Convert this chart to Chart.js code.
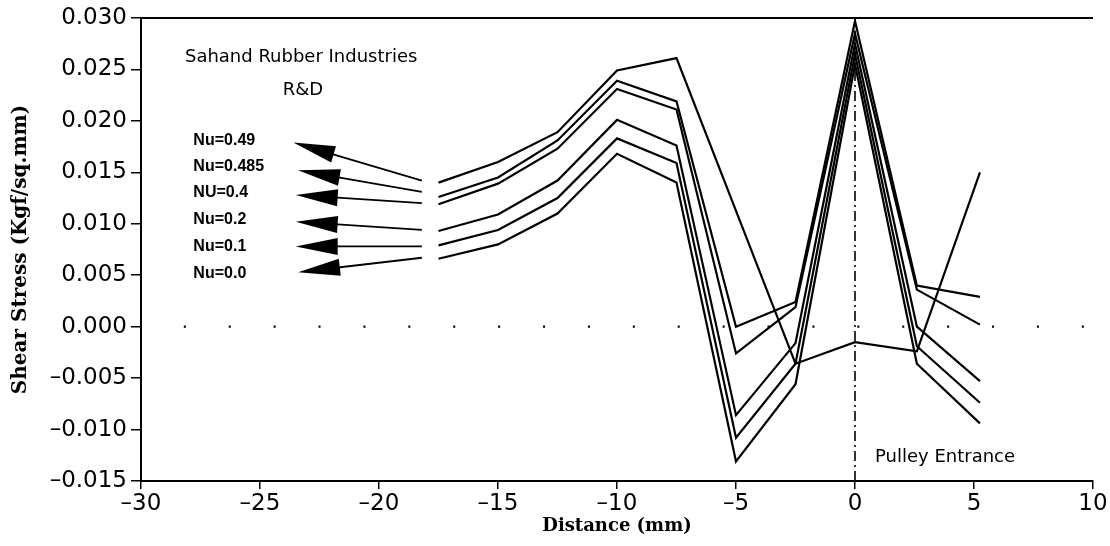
<!DOCTYPE html>
<html><head><meta charset="utf-8">
<script src="https://cdn.jsdelivr.net/npm/chart.js@4/dist/chart.umd.min.js"></script>
<style>html,body{margin:0;padding:0;background:#fff;}</style>
</head><body>
<canvas id="c" width="1110" height="546" style="width:1110px;height:546px;display:block"></canvas>
<script>
// ---- data ----
const distance = [-17.5, -15, -12.5, -10, -7.5, -5, -2.5, 0, 2.6, 5.25];
const nu049  = [0.0140, 0.0160, 0.0189, 0.0249, 0.0261, null,    -0.0036, -0.0015, -0.0024, 0.0150];
const nu0485 = [0.0126, 0.0145, 0.0181, 0.0239, 0.0219, 0.0000,  0.0024,  0.0297,  0.0040,  0.0029];
const nu04   = [0.0119, 0.0139, 0.0173, 0.0231, 0.0211, -0.0026, 0.0019,  0.0285,  0.0036,  0.0002];
const nu02   = [0.0093, 0.0109, 0.0142, 0.0201, 0.0176, -0.0086, -0.0016, 0.0275,  0.0000, -0.0053];
const nu01   = [0.0079, 0.0094, 0.0125, 0.0183, 0.0159, -0.0108, -0.0036, 0.0265, -0.0019, -0.0074];
const nu00   = [0.0066, 0.0080, 0.0110, 0.0168, 0.0140, -0.0131, -0.0056, 0.0255, -0.0036, -0.0094];
const seriesLabels = ["Nu=0.49", "Nu=0.485", "NU=0.4", "Nu=0.2", "Nu=0.1", "Nu=0.0"];
const xTicks = [-30, -25, -20, -15, -10, -5, 0, 5, 10];
const yTicks = [-0.015, -0.010, -0.005, 0.000, 0.005, 0.010, 0.015, 0.020, 0.025, 0.030];
// legend arrows (data coordinates)
const arrowTipX  = [-23.6, -23.4, -23.5, -23.5, -23.5, -23.4];
const arrowTipY  = [0.0179, 0.0152, 0.0128, 0.0102, 0.0078, 0.0053];
const arrowTailX = [-18.2, -18.2, -18.2, -18.2, -18.2, -18.2];
const arrowTailY = [0.0142, 0.0131, 0.0120, 0.0094, 0.0078, 0.0067];
const labelX = -27.8;
const labelY = [0.0181, 0.0156, 0.0130, 0.0104, 0.0078, 0.0052];
const zeroLineX = [-28.2, 10];
const entranceX = 0;

const allSeries = [nu049, nu0485, nu04, nu02, nu01, nu00];
const pts = s => distance.map((x, i) => ({x: x, y: s[i]}));

const datasets = allSeries.map((s, i) => ({
  label: seriesLabels[i], data: pts(s), borderColor: '#000', borderWidth: 2.2,
  pointRadius: 0, tension: 0, spanGaps: true, fill: false, order: 1
}));
datasets.push({
  label: 'zero', data: zeroLineX.map(x => ({x: x, y: 0})), borderColor: '#000',
  borderWidth: 2.2, borderDash: [2, 42.9], pointRadius: 0, order: 2
});
datasets.push({
  label: 'entrance', data: [{x: entranceX, y: -0.015}, {x: entranceX, y: 0.030}], borderColor: '#000',
  borderWidth: 1.6, borderDash: [10, 4, 2, 4], pointRadius: 0, order: 2
});

const fmt = v => { const s = Math.abs(v).toFixed(3); return (v < -1e-9 ? '\u2013' : '') + s; };
const fmtX = v => (v < 0 ? '\u2013' : '') + Math.abs(v);

const annot = {
  id: 'annot',
  afterDatasetsDraw(chart) {
    const ctx = chart.ctx, xs = chart.scales.x, ys = chart.scales.y, ca = chart.chartArea;
    ctx.save();
    // top border
    ctx.strokeStyle = '#000'; ctx.lineWidth = 2;
    ctx.beginPath(); ctx.moveTo(ca.left, ca.top); ctx.lineTo(ca.right, ca.top); ctx.stroke();
    // arrows
    ctx.fillStyle = '#000';
    for (let i = 0; i < arrowTipX.length; i++) {
      const tx = xs.getPixelForValue(arrowTipX[i]), ty = ys.getPixelForValue(arrowTipY[i]);
      const sx = xs.getPixelForValue(arrowTailX[i]), sy = ys.getPixelForValue(arrowTailY[i]);
      const a = Math.atan2(sy - ty, sx - tx), c = Math.cos(a), s = Math.sin(a);
      const L = 42, W = 8.5;
      const bx = tx + L * c, by = ty + L * s;
      ctx.beginPath();
      ctx.moveTo(tx, ty);
      ctx.lineTo(bx - W * s, by + W * c);
      ctx.lineTo(bx + W * s, by - W * c);
      ctx.closePath(); ctx.fill();
      ctx.lineWidth = 1.8;
      ctx.beginPath(); ctx.moveTo(bx - 4 * c, by - 4 * s); ctx.lineTo(sx, sy); ctx.stroke();
      // label
      ctx.font = 'bold 16px "Liberation Sans", Arial, sans-serif';
      ctx.textAlign = 'left'; ctx.textBaseline = 'middle';
      ctx.fillText(seriesLabels[i], xs.getPixelForValue(labelX), ys.getPixelForValue(labelY[i]));
    }
    ctx.font = '18px "DejaVu Sans", sans-serif';
    ctx.textAlign = 'center'; ctx.textBaseline = 'middle';
    ctx.fillText('Sahand Rubber Industries', xs.getPixelForValue(-23.27), ys.getPixelForValue(0.0262));
    ctx.fillText('R&D', xs.getPixelForValue(-23.2), ys.getPixelForValue(0.0230));
    ctx.textAlign = 'left';
    ctx.fillText('Pulley Entrance', xs.getPixelForValue(0.84), ys.getPixelForValue(-0.01266));
    ctx.restore();
  }
};

new Chart(document.getElementById('c'), {
  type: 'line',
  data: { datasets },
  options: {
    responsive: false, animation: false, devicePixelRatio: 1,
    layout: { padding: { top: 18, right: 17, left: 0, bottom: 0 } },
    plugins: { legend: { display: false }, tooltip: { enabled: false } },
    scales: {
      x: {
        type: 'linear', min: -30, max: 10,
        afterBuildTicks: s => { s.ticks = xTicks.map(v => ({value: v})); },
        afterFit: s => { s.height = 65; },
        border: { display: true, color: '#000', width: 2 },
        grid: { drawOnChartArea: false, drawTicks: true, tickLength: 8, color: '#000', lineWidth: 1.5 },
        ticks: { color: '#000', padding: 1, maxRotation: 0, font: { family: '"DejaVu Sans", sans-serif', size: 23 }, callback: v => fmtX(v) },
        title: { display: true, text: 'Distance (mm)', color: '#000', padding: { top: 0, bottom: 9 },
                 font: { family: '"DejaVu Serif", serif', size: 18, weight: 'bold' } }
      },
      y: {
        type: 'linear', min: -0.015, max: 0.030,
        afterBuildTicks: s => { s.ticks = yTicks.map(v => ({value: v})); },
        afterFit: s => { s.width = 141; },
        border: { display: true, color: '#000', width: 2 },
        grid: { drawOnChartArea: false, drawTicks: true, tickLength: 10, color: '#000', lineWidth: 1.5 },
        ticks: { color: '#000', padding: 4, font: { family: '"DejaVu Sans", sans-serif', size: 23 }, callback: v => fmt(v) },
        title: { display: true, text: 'Shear Stress (Kgf/sq.mm)', color: '#000', padding: { top: 9, bottom: 0 },
                 font: { family: '"DejaVu Serif", serif', size: 20, weight: 'bold' } }
      }
    }
  },
  plugins: [annot]
});
</script>
</body></html>
